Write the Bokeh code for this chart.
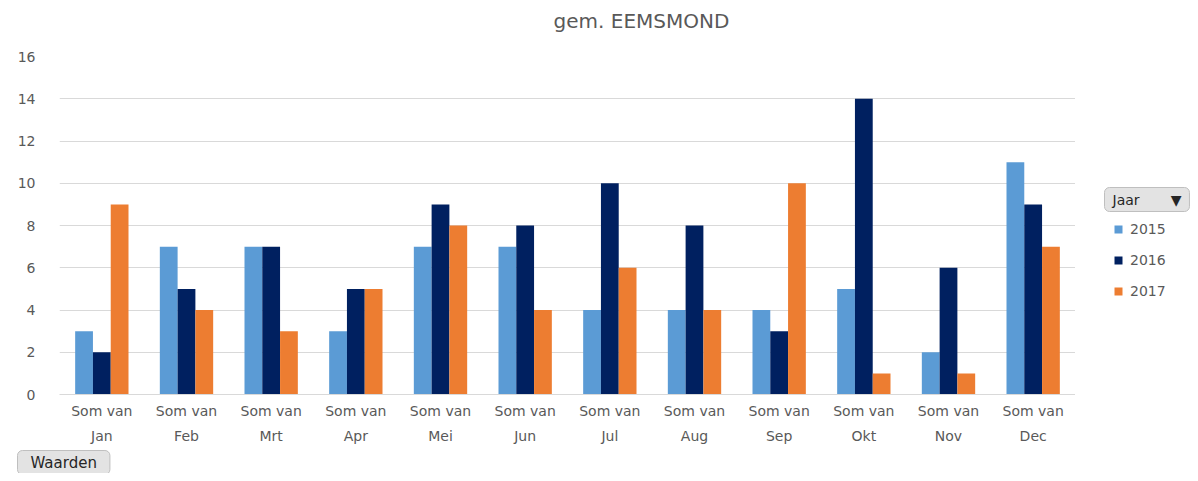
from bokeh.plotting import figure
from bokeh.models import ColumnDataSource, Range1d, Legend, LegendItem, Label
from bokeh.layouts import row
from bokeh.transform import dodge
from bokeh.embed import file_html
from bokeh.resources import INLINE

months = ["Jan", "Feb", "Mrt", "Apr", "Mei", "Jun", "Jul", "Aug", "Sep", "Okt", "Nov", "Dec"]
y2015 = [3, 7, 7, 3, 7, 7, 4, 4, 4, 5, 2, 11]
y2016 = [2, 5, 7, 5, 9, 8, 10, 8, 3, 14, 6, 9]
y2017 = [9, 4, 3, 5, 8, 4, 6, 4, 10, 1, 1, 7]
years = ["2015", "2016", "2017"]
colors = ["#5B9BD5", "#002060", "#ED7D31"]
y_ticks = [0, 2, 4, 6, 8, 10, 12, 14, 16]

cats = ["Som van\n" + m for m in months]
src = ColumnDataSource(dict(cat=cats, y2015=y2015, y2016=y2016, y2017=y2017))

FONT = "DejaVu Sans"
GREY = "#595959"
NB = "\u00A0"

p = figure(x_range=cats, y_range=Range1d(0, 16), width=1075, height=473,
           output_backend="svg", toolbar_location=None,
           min_border_left=59, min_border_right=0, min_border_top=56, min_border_bottom=79)
p.outline_line_color = None

for i, (yr, col) in enumerate(zip(["y2015", "y2016", "y2017"], colors)):
    p.vbar(x=dodge("cat", (i - 1) * 0.21, range=p.x_range), top=yr, width=0.21,
           source=src, fill_color=col, line_color=None)

p.xgrid.grid_line_color = None
p.ygrid.grid_line_color = "#D9D9D9"
p.ygrid.grid_line_width = 1

p.yaxis.ticker = y_ticks
p.yaxis.axis_line_color = None
p.yaxis.major_tick_line_color = None
p.yaxis.minor_tick_line_color = None
p.yaxis.major_label_text_font = FONT
p.yaxis.major_label_text_font_size = "14px"
p.yaxis.major_label_text_color = GREY
p.yaxis.major_label_standoff = 18

p.xaxis.axis_line_color = "#D9D9D9"
p.xaxis.major_tick_line_color = None
p.xaxis.minor_tick_line_color = None
p.xaxis.major_label_text_font = FONT
p.xaxis.major_label_text_font_size = "14px"
p.xaxis.major_label_text_color = GREY
p.xaxis.major_label_text_line_height = 1.6
p.xaxis.major_label_standoff = 2

title = Label(x=582, y=36, x_units="screen", y_units="screen", text="gem. EEMSMOND",
              text_align="center", text_baseline="middle", text_font=FONT,
              text_font_size="20px", text_color=GREY)
p.add_layout(title, "above")

waarden = Label(x=-42, y=9, x_units="screen", y_units="screen", text="Waarden",
                text_align="left", text_baseline="middle", text_font=FONT,
                text_font_size="15px", text_color="#262626",
                background_fill_color="#E3E3E3", border_line_color="#BFBFBF",
                padding=(13, 3), border_radius=5)
p.add_layout(waarden, "below")

# side panel with legend and filter button
side = figure(width=115, height=473, x_range=Range1d(0, 115), y_range=Range1d(0, 473),
              output_backend="svg", toolbar_location=None,
              x_axis_location=None, y_axis_location=None,
              min_border_left=0, min_border_right=0, min_border_top=0, min_border_bottom=0)
side.outline_line_color = None
side.grid.grid_line_color = None

items = []
for yr, col in zip(years, colors):
    r = side.vbar(x=[0], top=[0], bottom=[0], width=0, fill_color=col, line_color=None)
    items.append(LegendItem(label=yr, renderers=[r]))

legend = Legend(items=items, location=(38, 93), orientation="vertical",
                glyph_width=10, glyph_height=10, label_height=20, spacing=11,
                label_standoff=7, padding=0, margin=0,
                border_line_color=None, background_fill_alpha=0,
                label_text_font=FONT, label_text_font_size="14px", label_text_color=GREY)
side.add_layout(legend, "center")

jaar = Label(x=29, y=195, x_units="screen", y_units="screen",
             text="Jaar" + NB * 7 + "\u25BC",
             text_align="left", text_baseline="middle", text_font=FONT,
             text_font_size="14px", text_color="#262626",
             background_fill_color="#E3E3E3", border_line_color="#BFBFBF",
             padding=(8, 4), border_radius=5)
side.add_layout(jaar)

layout = row(p, side, spacing=0)
open("out.html", "w").write(file_html(layout, INLINE))
